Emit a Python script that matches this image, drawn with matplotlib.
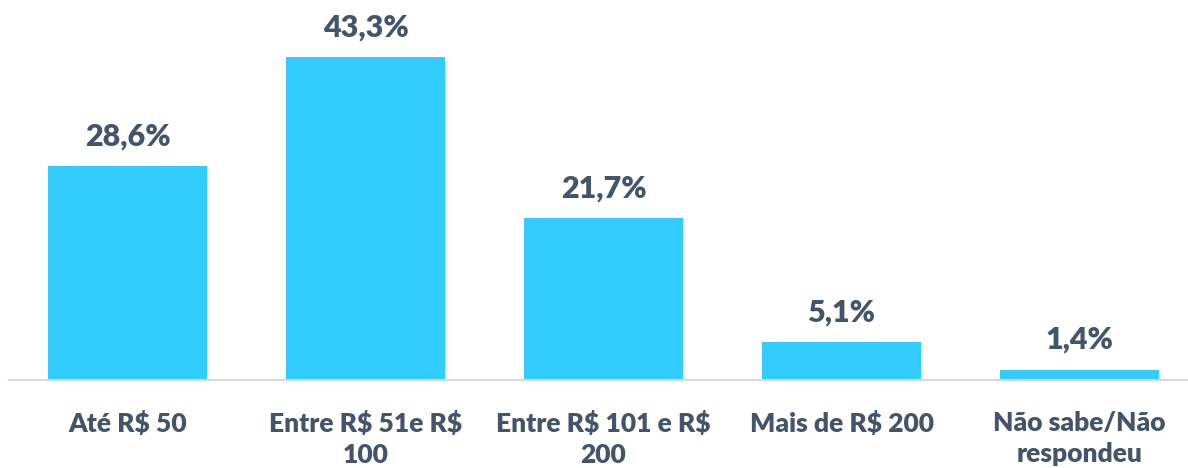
import matplotlib.pyplot as plt

# values
CATEGORIES = ["Até R$ 50", "Entre R$ 51e R$\n100", "Entre R$ 101 e R$\n200", "Mais de R$ 200", "Não sabe/Não\nrespondeu"]
VALUES = [28.6, 43.3, 21.7, 5.1, 1.4]
LABELS = ["28,6%", "43,3%", "21,7%", "5,1%", "1,4%"]

BAR_COLOUR = "#33CCFF"
TEXT_COLOUR = "#44546A"
AXIS_COLOUR = "#D9D9D9"

plt.rcParams["font.family"] = ["Lato", "DejaVu Sans"]
plt.rcParams["text.parse_math"] = False  # keep the R$ signs as plain text

fig = plt.figure(figsize=(11.88, 4.68), dpi=100)
# axes runs a bit past the right edge so that the slots are evenly spaced
ax = fig.add_axes([8.5 / 1188, 88 / 468, 1190 / 1188, 380 / 468])

x = range(len(VALUES))
ax.bar(x, VALUES, width=0.667, color=BAR_COLOUR)
for i, v in enumerate(VALUES):
	ax.text(i, v + 2.1, LABELS[i], ha="center", va="bottom", fontsize=22,
		fontweight="heavy", color=TEXT_COLOUR)

ax.set_xlim(-0.5, 4.5)
ax.set_ylim(0, 50.9)
ax.set_yticks([])
ax.set_xticks(list(x))
ax.set_xticklabels(CATEGORIES, fontsize=19, fontweight="heavy", color=TEXT_COLOUR, linespacing=1.35)
ax.tick_params(axis="x", length=0, pad=22)

for side in ["top", "right", "left"]:
	ax.spines[side].set_visible(False)
ax.spines["bottom"].set_color(AXIS_COLOUR)
ax.spines["bottom"].set_linewidth(1.5)

fig.savefig("out.png", dpi=100)
